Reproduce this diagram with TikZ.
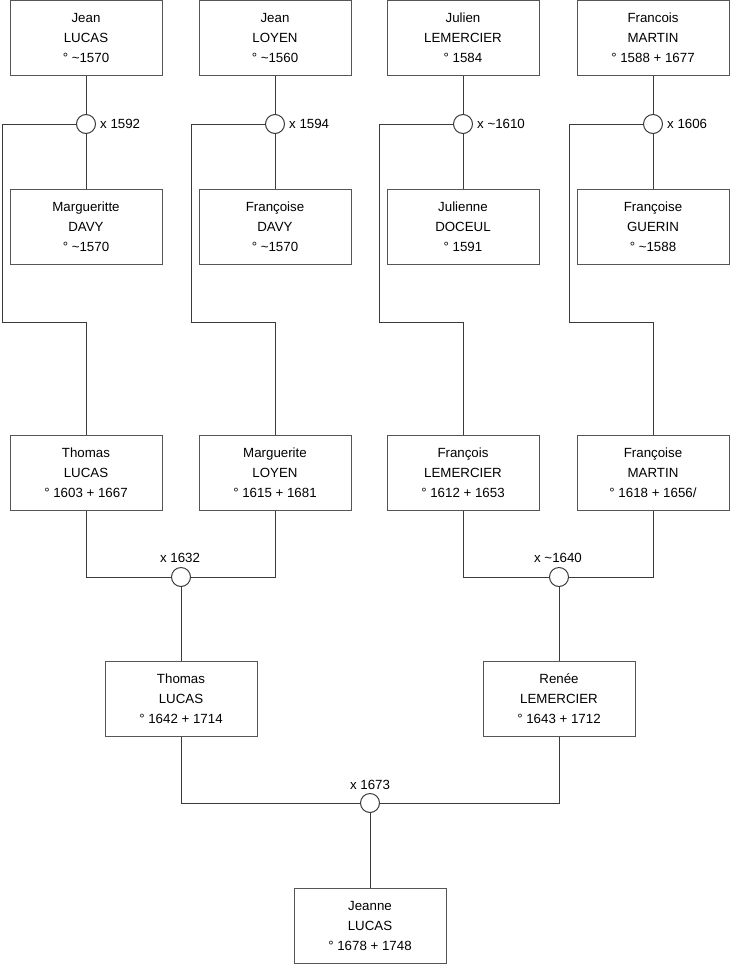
\documentclass[tikz,border=0pt]{standalone}
\usepackage{fontspec}
\setmainfont{Liberation Sans}
\definecolor{linec}{HTML}{3A3A3A}
\definecolor{boxc}{HTML}{555555}
\newcommand{\tl}{\textasciitilde}
\begin{document}
\begin{tikzpicture}[x=1pt,y=-1pt,
  person/.style={draw=boxc, fill=white, minimum width=152pt, minimum height=75pt, inner sep=0pt, align=center, font=\fontsize{13.3}{20}\selectfont, line width=1pt},
  marr/.style={circle, draw=linec, fill=white, minimum size=19pt, inner sep=0pt, line width=1pt},
  link/.style={draw=linec, line width=1pt},
  lbl/.style={font=\fontsize{13.3}{15}\selectfont, inner sep=0pt}]
\useasboundingbox (0,0) rectangle (740,975);
% top row
\node[person] (p1) at (86,37.5) {Jean\\LUCAS\\° \tl1570};
\node[person] (p2) at (275,37.5) {Jean\\LOYEN\\° \tl1560};
\node[person] (p3) at (463,37.5) {Julien\\LEMERCIER\\° 1584};
\node[person] (p4) at (653,37.5) {Francois\\MARTIN\\° 1588 + 1677};
% marriages top
\node[marr] (m1) at (86,124) {};
\node[marr] (m2) at (275,124) {};
\node[marr] (m3) at (463,124) {};
\node[marr] (m4) at (653,124) {};
\node[lbl, anchor=west] (l1) at (100,124) {x 1592};
\node[lbl, anchor=west] (l2) at (289,124) {x 1594};
\node[lbl, anchor=west] (l3) at (477,124) {x \tl1610};
\node[lbl, anchor=west] (l4) at (667,124) {x 1606};
% wives
\node[person] (w1) at (86,227) {Margueritte\\DAVY\\° \tl1570};
\node[person] (w2) at (275,227) {Françoise\\DAVY\\° \tl1570};
\node[person] (w3) at (463,227) {Julienne\\DOCEUL\\° 1591};
\node[person] (w4) at (653,227) {Françoise\\GUERIN\\° \tl1588};
% row 3
\node[person] (c1) at (86,472.5) {Thomas\\LUCAS\\° 1603 + 1667};
\node[person] (c2) at (275,472.5) {Marguerite\\LOYEN\\° 1615 + 1681};
\node[person] (c3) at (463,472.5) {François\\LEMERCIER\\° 1612 + 1653};
\node[person] (c4) at (653,472.5) {Françoise\\MARTIN\\° 1618 + 1656/};
% marriages row 3
\node[marr] (m5) at (181,577) {};
\node[marr] (m6) at (559,577) {};
\node[lbl] (l5) at (180,558) {x 1632};
\node[lbl] (l6) at (558,558) {x \tl1640};
% row 4
\node[person] (g1) at (181,699) {Thomas\\LUCAS\\° 1642 + 1714};
\node[person] (g2) at (559,699) {Renée\\LEMERCIER\\° 1643 + 1712};
\node[marr] (m7) at (370,803) {};
\node[lbl] (l7) at (370,785) {x 1673};
\node[person] (j) at (370,925.5) {Jeanne\\LUCAS\\° 1678 + 1748};
% bend points
\coordinate (a1) at (2,322);
\coordinate (a2) at (191,322);
\coordinate (a3) at (379,322);
\coordinate (a4) at (569,322);
% connectors
\draw[link] (p1) -- (m1) -- (w1);
\draw[link] (p2) -- (m2) -- (w2);
\draw[link] (p3) -- (m3) -- (w3);
\draw[link] (p4) -- (m4) -- (w4);
\draw[link] (m1.west) -| (a1) -| (c1.north);
\draw[link] (m2.west) -| (a2) -| (c2.north);
\draw[link] (m3.west) -| (a3) -| (c3.north);
\draw[link] (m4.west) -| (a4) -| (c4.north);
\draw[link] (c1.south) |- (m5.west);
\draw[link] (c2.south) |- (m5.east);
\draw[link] (c3.south) |- (m6.west);
\draw[link] (c4.south) |- (m6.east);
\draw[link] (m5) -- (g1);
\draw[link] (m6) -- (g2);
\draw[link] (g1.south) |- (m7.west);
\draw[link] (g2.south) |- (m7.east);
\draw[link] (m7) -- (j);
\end{tikzpicture}
\end{document}
